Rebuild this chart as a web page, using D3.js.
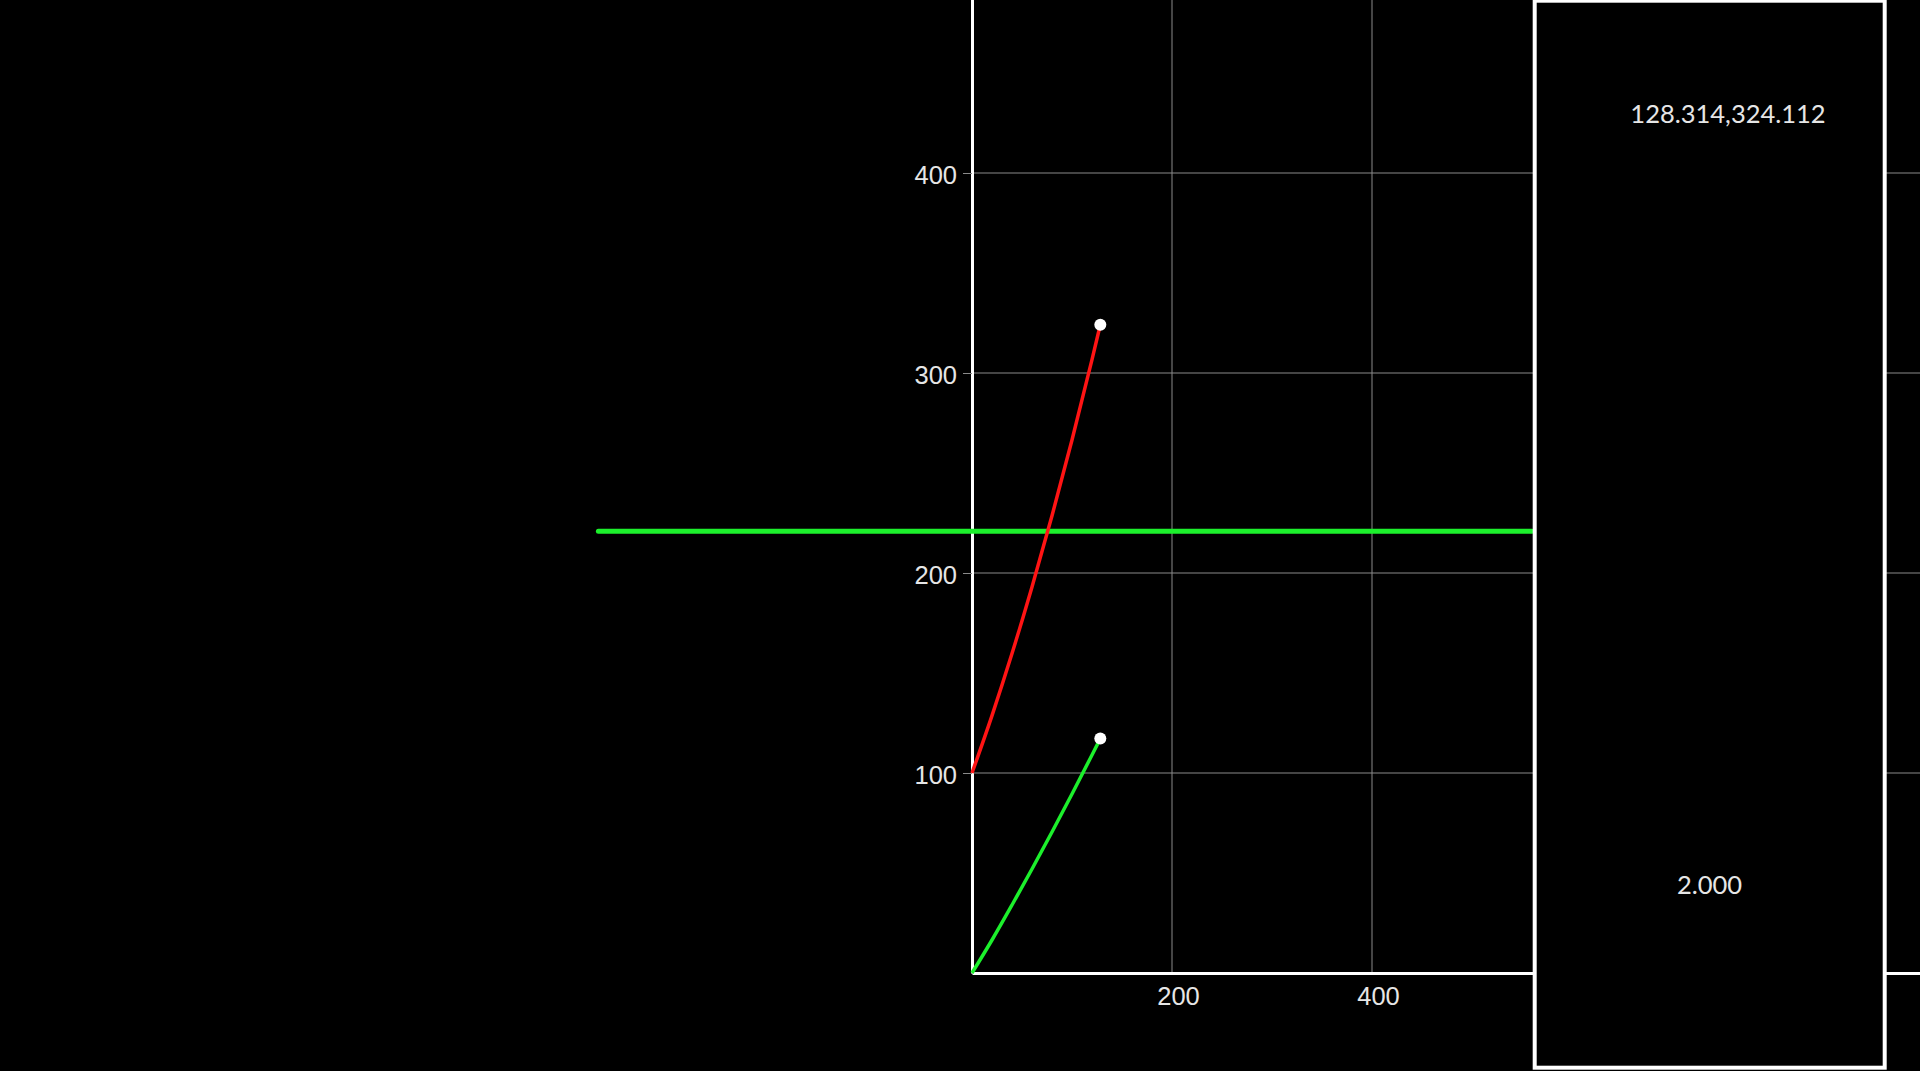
<!DOCTYPE html>
<html>
<head>
<meta charset="utf-8">
<script src="https://cdn.jsdelivr.net/npm/d3@7"></script>
<style>
  html, body { margin: 0; padding: 0; background: #000; overflow: hidden; }
  svg { display: block; font-family: Lato, 'Noto Sans', sans-serif; }
</style>
</head>
<body>
<div id="chart"></div>
<script>
// ticks
const xTicks = [200, 400, 600, 800]
const yTicks = [100, 200, 300, 400]
// red path
const redX = [0, 20, 40, 60, 80, 100, 120, 128.314]
const redY = [100, 128.7, 159.7, 193, 228.6, 266.5, 306.7, 324.112]
// green path
const greenX = [0, 20, 40, 60, 80, 100, 120, 128.314]
const greenY = [0, 16.5, 34, 52, 70.5, 89.5, 109, 117.2]
// horizontal level line
const levelX = [-373.6, 560]
const levelY = [220.9, 220.9]
// readouts
const readoutPos = '128.314,324.112'
const readoutVal = '2.000'

let _width = 1920
let _height = 1071

let svg = d3
  .select('#chart')
  .append('svg')
  .attr('width', _width)
  .attr('height', _height)

svg
  .append('rect')
  .attr('width', _width)
  .attr('height', _height)
  .attr('fill', '#000')

let x = d3.scaleLinear().domain([0, 1000]).range([972, 1972])
let y = d3.scaleLinear().domain([0, 500]).range([973, -27])

/* grid */
let grid = svg.append('g').attr('class', 'grid')
grid
  .selectAll('.gx')
  .data(xTicks)
  .enter()
  .append('line')
  .attr('x1', d => x(d))
  .attr('x2', d => x(d))
  .attr('y1', y(0))
  .attr('y2', y(500))
  .attr('stroke', '#8a8a8a')
  .attr('stroke-width', 1)
grid
  .selectAll('.gy')
  .data(yTicks)
  .enter()
  .append('line')
  .attr('x1', x(0))
  .attr('x2', x(1000))
  .attr('y1', d => y(d))
  .attr('y2', d => y(d))
  .attr('stroke', '#8a8a8a')
  .attr('stroke-width', 1)

/* axes */
let yAxis = svg
  .append('g')
  .attr('transform', 'translate(' + x(0) + ',0)')
  .call(
    d3
      .axisLeft(y)
      .tickValues(yTicks)
      .tickSize(9)
      .tickSizeOuter(0)
      .tickPadding(6)
  )
yAxis.select('.domain').attr('stroke', '#fff').attr('stroke-width', 3)
yAxis.selectAll('.tick line').attr('stroke', '#8a8a8a')
yAxis
  .selectAll('.tick text')
  .attr('fill', '#e6e6e6')
  .attr('dy', '0.42em')
  .style('font-size', '25.5px')

let xAxis = svg
  .append('g')
  .attr('transform', 'translate(0,' + y(0) + ')')
  .call(
    d3
      .axisBottom(x)
      .tickValues(xTicks)
      .tickSize(0)
      .tickSizeOuter(0)
      .tickPadding(14)
  )
xAxis.select('.domain').attr('stroke', '#fff').attr('stroke-width', 3)
xAxis
  .selectAll('.tick text')
  .attr('fill', '#e6e6e6')
  .attr('dx', 6)
  .style('font-size', '25.5px')

/* lines */
let line = d3
  .line()
  .x(d => x(d[0]))
  .y(d => y(d[1]))
  .curve(d3.curveMonotoneX)

svg
  .append('path')
  .datum(d3.zip(levelX, levelY))
  .attr('d', line)
  .attr('fill', 'none')
  .attr('stroke', '#1cf02c')
  .attr('stroke-width', 5)
  .attr('stroke-linecap', 'round')

svg
  .append('path')
  .datum(d3.zip(redX, redY))
  .attr('d', line)
  .attr('fill', 'none')
  .attr('stroke', '#ff1414')
  .attr('stroke-width', 3.5)

svg
  .append('path')
  .datum(d3.zip(greenX, greenY))
  .attr('d', line)
  .attr('fill', 'none')
  .attr('stroke', '#1cf02c')
  .attr('stroke-width', 3.5)

// end points
svg
  .selectAll('.dot')
  .data([
    [redX[redX.length - 1], redY[redY.length - 1]],
    [greenX[greenX.length - 1], greenY[greenY.length - 1]]
  ])
  .enter()
  .append('circle')
  .attr('class', 'dot')
  .attr('cx', d => x(d[0]))
  .attr('cy', d => y(d[1]))
  .attr('r', 6)
  .attr('fill', '#fff')

/* readout panel */
let panel = svg.append('g')
panel
  .append('rect')
  .attr('x', 1534.7)
  .attr('y', 0.7)
  .attr('width', 350)
  .attr('height', 1067)
  .attr('fill', '#000')
  .attr('stroke', '#fff')
  .attr('stroke-width', 4)
panel
  .append('text')
  .attr('x', 1728)
  .attr('y', 123)
  .attr('text-anchor', 'middle')
  .attr('fill', '#e6e6e6')
  .style('font-size', '25.5px')
  .text(readoutPos)
panel
  .append('text')
  .attr('x', 1709.5)
  .attr('y', 894)
  .attr('text-anchor', 'middle')
  .attr('fill', '#e6e6e6')
  .style('font-size', '25.5px')
  .text(readoutVal)
</script>
</body>
</html>
